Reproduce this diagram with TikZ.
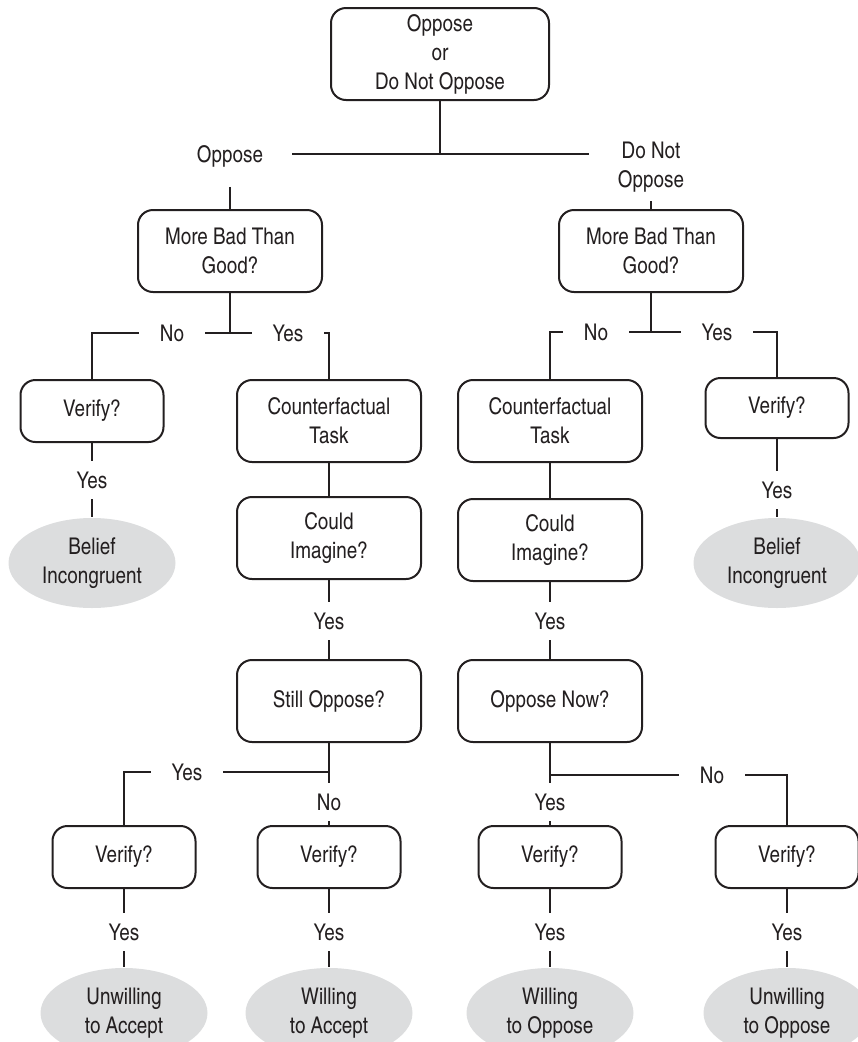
\documentclass[tikz,border=0pt]{standalone}
\usepackage{fontspec}
\setmainfont{TeX Gyre Heros Cn}
\usetikzlibrary{shapes.geometric}
\definecolor{ink}{RGB}{35,31,32}
\definecolor{shade}{RGB}{220,221,222}
\tikzset{
	every node/.style={font=\fontsize{23}{29}\selectfont, text=ink, align=center},
	box/.style={draw=ink, line width=2pt, rounded corners=15pt, minimum width=184pt, minimum height=82pt, inner sep=0pt},
	vbox/.style={box, minimum width=143pt, minimum height=62pt},
	outcome/.style={ellipse, fill=shade, minimum width=167pt, minimum height=90pt, inner sep=0pt},
	lbl/.style={inner xsep=20pt, inner ysep=10pt},
}
\begin{document}
\begin{tikzpicture}[x=1pt, y=-1pt, line width=2pt, ink]
	\useasboundingbox (0,0) rectangle (858,1042);
	\node[box, minimum width=218pt, minimum height=92pt] (top) at (440,54) {Oppose\\or\\Do Not Oppose};
	\node[lbl, inner xsep=28pt, inner ysep=19pt] (oppL) at (230,156) {Oppose};
	\node[lbl, inner xsep=28pt, inner ysep=8pt] (oppR) at (651,167) {Do Not\\Oppose};
	\node[box] (lq) at (230,251) {More Bad Than\\Good?};
	\node[box] (rq) at (651,251) {More Bad Than\\Good?};
	\node[lbl] (noL) at (172,333) {No};
	\node[lbl] (yesL) at (288,333) {Yes};
	\node[lbl] (noR) at (596,332) {No};
	\node[lbl] (yesR) at (717,332) {Yes};
	\node[vbox] (verL) at (92,411) {Verify?};
	\node[lbl] (yesVL) at (92,480) {Yes};
	\node[outcome] (belL) at (92,563) {Belief\\Incongruent};
	\node[box] (ctL) at (329,421) {Counterfactual\\Task};
	\node[box] (ciL) at (329,538) {Could\\Imagine?};
	\node[lbl] (yesCL) at (329,621) {Yes};
	\node[box] (still) at (329,701) {Still Oppose?};
	\node[box] (ctR) at (550,421) {Counterfactual\\Task};
	\node[box] (ciR) at (550,540) {Could\\Imagine?};
	\node[lbl] (yesCR) at (550,621) {Yes};
	\node[box] (now) at (550,701) {Oppose Now?};
	\node[vbox, minimum height=60pt] (verR) at (777,408) {Verify?};
	\node[lbl] (yesVR) at (777,490) {Yes};
	\node[outcome] (belR) at (777,563) {Belief\\Incongruent};
	\node[lbl] (yesS) at (187,772) {Yes};
	\node[lbl] (noS) at (329,802) {No};
	\node[lbl] (yesN) at (550,802) {Yes};
	\node[lbl] (noN) at (712,775) {No};
	\foreach \n/\x in {1/124,2/329,3/550,4/787} {
		\node[vbox] (ver\n) at (\x,857) {Verify?};
		\node[lbl] (yes\n) at (\x,932) {Yes};
		\draw (ver\n) -- (yes\n);
	}
	\node[outcome] (end1) at (124,1013) {Unwilling\\to Accept};
	\node[outcome] (end2) at (329,1013) {Willing\\to Accept};
	\node[outcome] (end3) at (550,1013) {Willing\\to Oppose};
	\node[outcome] (end4) at (787,1013) {Unwilling\\to Oppose};
	\foreach \n in {1,2,3,4} \draw (yes\n) -- (end\n);
	\draw (top.south) -- (top.south |- 0,154) (oppL.east |- 0,154) -- (oppR.west |- 0,154) (oppL) -- (lq) (oppR) -- (rq);
	\draw (lq.south) |- (noL.east) (lq.south |- noL) -- (yesL.west) (noL.west) -| (verL) (yesL.east) -| (ctL);
	\draw (rq.south) |- (noR.east) (rq.south |- noR) -- (yesR.west) (noR.west) -| (ctR) (yesR.east) -| (verR);
	\draw (verL) -- (yesVL) -- (belL) (verR) -- (yesVR) -- (belR);
	\draw (ctL) -- (ciL) -- (yesCL) -- (still) (ctR) -- (ciR) -- (yesCR) -- (now);
	\draw (still) -- (noS) -- (ver2) (still.south |- yesS) -- (yesS.east) (yesS.west) -| (ver1);
	\draw (now) -- (yesN) -- (ver3) (now.south |- noN) -- (noN.west) (noN.east) -| (ver4);
\end{tikzpicture}
\end{document}
